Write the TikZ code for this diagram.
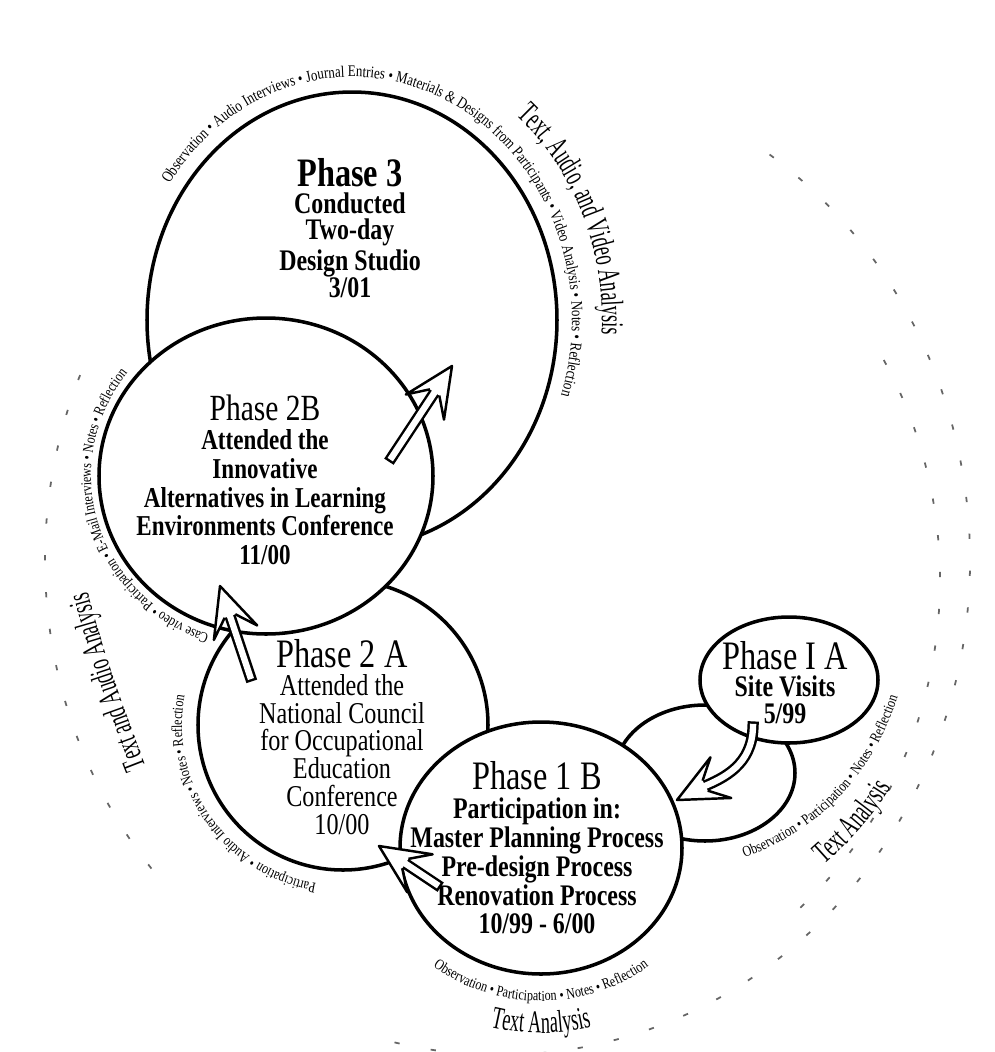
\documentclass[tikz,border=0pt]{standalone}
\usepackage{fontspec}
\setmainfont{Liberation Serif}
\newfontfamily\condfont[FakeStretch=0.8]{Liberation Serif}
\newfontfamily\narrowfont[FakeStretch=0.58]{Liberation Serif}
\usetikzlibrary{shapes.geometric,calc,decorations.text}
\newcommand{\arcsmall}{\condfont\fontsize{4.3}{5}\selectfont}
\newcommand{\arcwide}{\condfont\fontsize{4.6}{5}\selectfont}
\newcommand{\arcbig}{\narrowfont\fontsize{9}{10}\selectfont}
\newcommand{\phasehead}[2]{%
  \path[harrow] ($(#2)!9pt!(#1)!1.6pt!90:(#1)$) -- ($(#2)!14pt!(#1)!6.5pt!90:(#1)$)
    -- (#2) -- ($(#2)!14pt!(#1)!6.5pt!-90:(#1)$) -- ($(#2)!9pt!(#1)!1.6pt!-90:(#1)$);}
\newcommand{\phasearrow}[2]{%
  \draw[shaft] (#1) -- ($(#2)!8pt!(#1)$);
  \phasehead{#1}{#2}}
\begin{document}
\begin{tikzpicture}[x=0.1mm,y=-0.1mm,
  phase/.style={ellipse,draw,line width=1pt,fill=white,inner sep=0pt},
  ptext/.style={align=center,inner sep=0pt},
  harrow/.style={draw,line width=0.7pt,fill=white,line join=round},
  shaft/.style={draw,line width=0.7pt,double=white,double distance=1.8pt,line cap=rect},
  noise/.style={black!60,line width=0.5pt,dash pattern=on 1.5pt off 9pt},
  arctext/.style={decorate,decoration={text along path,text align=center,text={#1}}}]
  \useasboundingbox (0,0) rectangle (995,1052);
  % scanned ripples
  \draw[noise] ($(500,560)+(-55:470 and 495)$) arc[start angle=-55,end angle=105,x radius=470,y radius=495];
  \draw[noise] ($(500,560)+(140:455 and 480)$) arc[start angle=140,end angle=205,x radius=455,y radius=480];
  \draw[noise] ($(520,580)+(-30:420 and 440)$) arc[start angle=-30,end angle=50,x radius=420,y radius=440];

  \node[phase,minimum width=41mm,minimum height=45.6mm] (p3) at (352,320) {};
  \node[phase,minimum width=29mm,minimum height=29mm] (p2a) at (343,725) {};
  \node[phase,minimum width=33.4mm,minimum height=31.6mm] (p2b) at (266,476) {};
  \node[phase,minimum width=18mm,minimum height=13.6mm] (p1back) at (705,773) {};
  \node[phase,minimum width=28.2mm,minimum height=25.2mm] (p1b) at (541,848) {};
  \node[phase,minimum width=17.8mm,minimum height=12.6mm] (p1a) at (789,680) {};

  \node[ptext,font=\condfont\bfseries\fontsize{8.5}{7.6}\selectfont] (p3lbl) at ($(p3.center)+(-2,-92)$)
    {{\fontsize{11.5}{7.6}\selectfont Phase 3}\\Conducted\\Two-day\\Design Studio\\3/01};
  \node[ptext,font=\condfont\bfseries\fontsize{8.2}{8.2}\selectfont] (p2blbl) at ($(p2b.center)+(-1,4)$)
    {{\mdseries\fontsize{10.5}{8.2}\selectfont Phase 2B}\\Attended the\\Innovative\\Alternatives in Learning\\Environments Conference\\11/00};
  \node[ptext,font=\condfont\fontsize{8.6}{7.9}\selectfont] (p2albl) at ($(p2a.center)+(-1,12)$)
    {{\fontsize{11.5}{7.9}\selectfont Phase 2 A}\\Attended the\\National Council\\for Occupational\\Education\\Conference\\10/00};
  \node[ptext,font=\condfont\bfseries\fontsize{8.5}{8.2}\selectfont] (p1blbl) at ($(p1b.center)+(-4,0)$)
    {{\mdseries\fontsize{11.5}{8.2}\selectfont Phase 1 B}\\Participation in:\\Master Planning Process\\Pre-design Process\\Renovation Process\\10/99 - 6/00};
  \node[ptext,font=\condfont\bfseries\fontsize{8.5}{7.7}\selectfont] (p1albl) at ($(p1a.center)+(-4,3)$)
    {{\mdseries\fontsize{11.5}{7.7}\selectfont Phase I A}\\Site Visits\\5/99};

  \path[arctext={|\arcwide|Observation {\textbullet} Audio Interviews {\textbullet} Journal Entries {\textbullet} Materials {\&} Designs from Participants {\textbullet} Video Analysis {\textbullet} Notes {\textbullet} Reflection}]
    ($(p3.center)+(203:220 and 243)$) arc[start angle=203,end angle=389,x radius=220,y radius=243];
  \path[arctext={|\arcbig|Text, Audio, and Video Analysis}]
    ($(p3.center)+(303:250 and 272)$) arc[start angle=303,end angle=371,x radius=250,y radius=272];
  \path[arctext={|\arcsmall|Case video {\textbullet} Participation {\textbullet} E-Mail Interviews {\textbullet} Notes {\textbullet} Reflection}]
    ($(p2b.center)+(95:175 and 168)$) arc[start angle=95,end angle=232,x radius=175,y radius=168];
  \path[arctext={|\arcsmall|Participation {\textbullet} Audio Interviews {\textbullet} Notes {\textbullet} Reflection}]
    ($(p2a.center)+(85:161)$) arc[start angle=85,end angle=205,radius=161];
  \path[arctext={|\arcbig|Text and Audio Analysis}]
    (154,787) .. controls (130,727) and (102,652) .. (82,570);
  \path[arctext={|\arcsmall|Observation {\textbullet} Participation {\textbullet} Notes {\textbullet} Reflection}]
    ($(p1b.center)+(145:170 and 153)$) arc[start angle=145,end angle=35,x radius=170,y radius=153];
  \path[arctext={|\arcbig|Text Analysis}]
    ($(p1b.center)+(115:200 and 185)$) arc[start angle=115,end angle=65,x radius=200,y radius=185];
  \path[arctext={|\arcsmall|Observation {\textbullet} Participation {\textbullet} Notes {\textbullet} Reflection}]
    (716,866) .. controls (800,845) and (877,790) .. (906,668);
  \path[arctext={|\arcbig|Text Analysis}]
    (810,877) .. controls (848,845) and (878,815) .. (900,771);

  \coordinate (a1tail) at (392,457); \coordinate (a1tip) at (452,366);
  \coordinate (a2tail) at (250,676); \coordinate (a2tip) at (220,586);
  \coordinate (a3tail) at (436,884); \coordinate (a3tip) at (379,846);
  \coordinate (a4tail) at (753,727); \coordinate (a4tip) at (677,800); \coordinate (a4back) at (726,775);
  \phasearrow{a1tail}{a1tip}
  \phasearrow{a2tail}{a2tip}
  \phasearrow{a3tail}{a3tip}
  \draw[shaft] (a4tail) .. controls (752,765) and (724,778) .. ($(a4tip)!8pt!(a4back)$);
  \phasehead{a4back}{a4tip}
\end{tikzpicture}
\end{document}
